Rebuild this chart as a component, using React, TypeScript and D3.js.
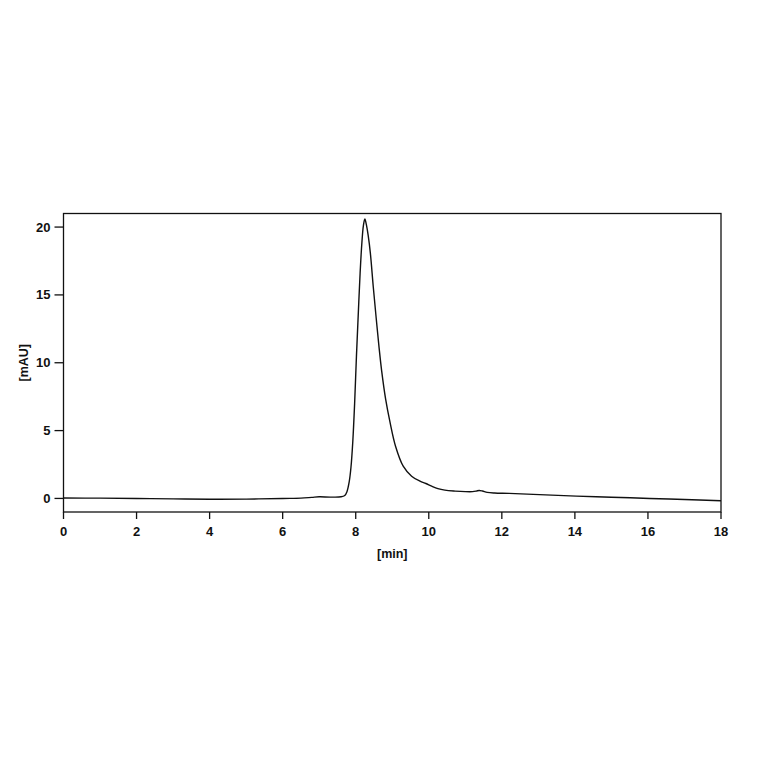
import React from "react";
import * as d3 from "d3";

const timeMin: number[] = [0, 1, 2, 3, 4, 5, 6, 6.5, 6.8, 7.0, 7.3, 7.6, 7.7, 7.76, 7.82, 7.87, 7.92, 7.97, 8.02, 8.07, 8.12, 8.17, 8.21, 8.25, 8.29, 8.34, 8.4, 8.48, 8.56, 8.64, 8.71, 8.82, 8.94, 9.09, 9.3, 9.53, 9.76, 9.92, 10.08, 10.25, 10.44, 10.72, 11.0, 11.2, 11.3, 11.38, 11.47, 11.6, 11.8, 12.2, 12.86, 14.04, 15, 16.05, 17, 18];
const absorbance: number[] = [0.03, 0.02, 0.0, -0.03, -0.06, -0.05, 0.0, 0.02, 0.08, 0.12, 0.1, 0.12, 0.22, 0.5, 1.2, 2.3, 4.2, 7.0, 10.5, 13.6, 16.6, 18.9, 20.1, 20.6, 20.2, 19.4, 18.1, 15.6, 13.3, 11.1, 9.4, 7.3, 5.6, 3.85, 2.38, 1.64, 1.27, 1.1, 0.9, 0.72, 0.61, 0.54, 0.5, 0.5, 0.54, 0.59, 0.55, 0.45, 0.4, 0.37, 0.3, 0.17, 0.09, 0, -0.08, -0.17];
const xTicks: number[] = [0, 2, 4, 6, 8, 10, 12, 14, 16, 18];
const yTicks: number[] = [0, 5, 10, 15, 20];
const xLabel = "[min]";
const yLabel = "[mAU]";

export default function App() {
  const left = 63.5, right = 721, top = 213.5, bottom = 512;
  const x = d3.scaleLinear().domain([0, 18]).range([left, right]);
  const y = d3.scaleLinear().domain([-1, 21]).range([bottom, top]);
  const pts: [number, number][] = timeMin.map((t, i) => [t, absorbance[i]]);
  const line = d3
    .line<[number, number]>()
    .x((d) => x(d[0]))
    .y((d) => y(d[1]))
    .curve(d3.curveCatmullRom.alpha(0.5));
  const font = "'Liberation Sans', Arial, sans-serif";
  return (
    <svg
      width={764}
      height={764}
      style={{ position: "absolute", left: 0, top: 0, background: "#fff" }}
    >
      <rect x={0} y={0} width={764} height={764} fill="#fff" />
      <path d={line(pts) || ""} fill="none" stroke="#111" strokeWidth={1.4} />
      <rect
        x={left}
        y={top}
        width={right - left}
        height={bottom - top}
        fill="none"
        stroke="#111"
        strokeWidth={1.3}
      />
      {yTicks.map((v) => (
        <g key={"y" + v}>
          <line x1={left - 9} x2={left} y1={y(v)} y2={y(v)} stroke="#111" strokeWidth={1.3} />
          <text
            x={left - 13}
            y={y(v)}
            dy="0.35em"
            textAnchor="end"
            fontFamily={font}
            fontWeight="bold"
            fontSize={13}
            fill="#111"
          >
            {v}
          </text>
        </g>
      ))}
      {xTicks.map((v) => (
        <g key={"x" + v}>
          <line x1={x(v)} x2={x(v)} y1={bottom} y2={bottom + 7} stroke="#111" strokeWidth={1.3} />
          <text
            x={x(v)}
            y={bottom + 24}
            textAnchor="middle"
            fontFamily={font}
            fontWeight="bold"
            fontSize={13}
            fill="#111"
          >
            {v}
          </text>
        </g>
      ))}
      <text
        x={(left + right) / 2}
        y={558}
        textAnchor="middle"
        fontFamily={font}
        fontWeight="bold"
        fontSize={12.5}
        fill="#111"
      >
        {xLabel}
      </text>
      <text
        transform={`translate(28, ${(top + bottom) / 2}) rotate(-90)`}
        textAnchor="middle"
        fontFamily={font}
        fontWeight="bold"
        fontSize={12.5}
        fill="#111"
      >
        {yLabel}
      </text>
    </svg>
  );
}
